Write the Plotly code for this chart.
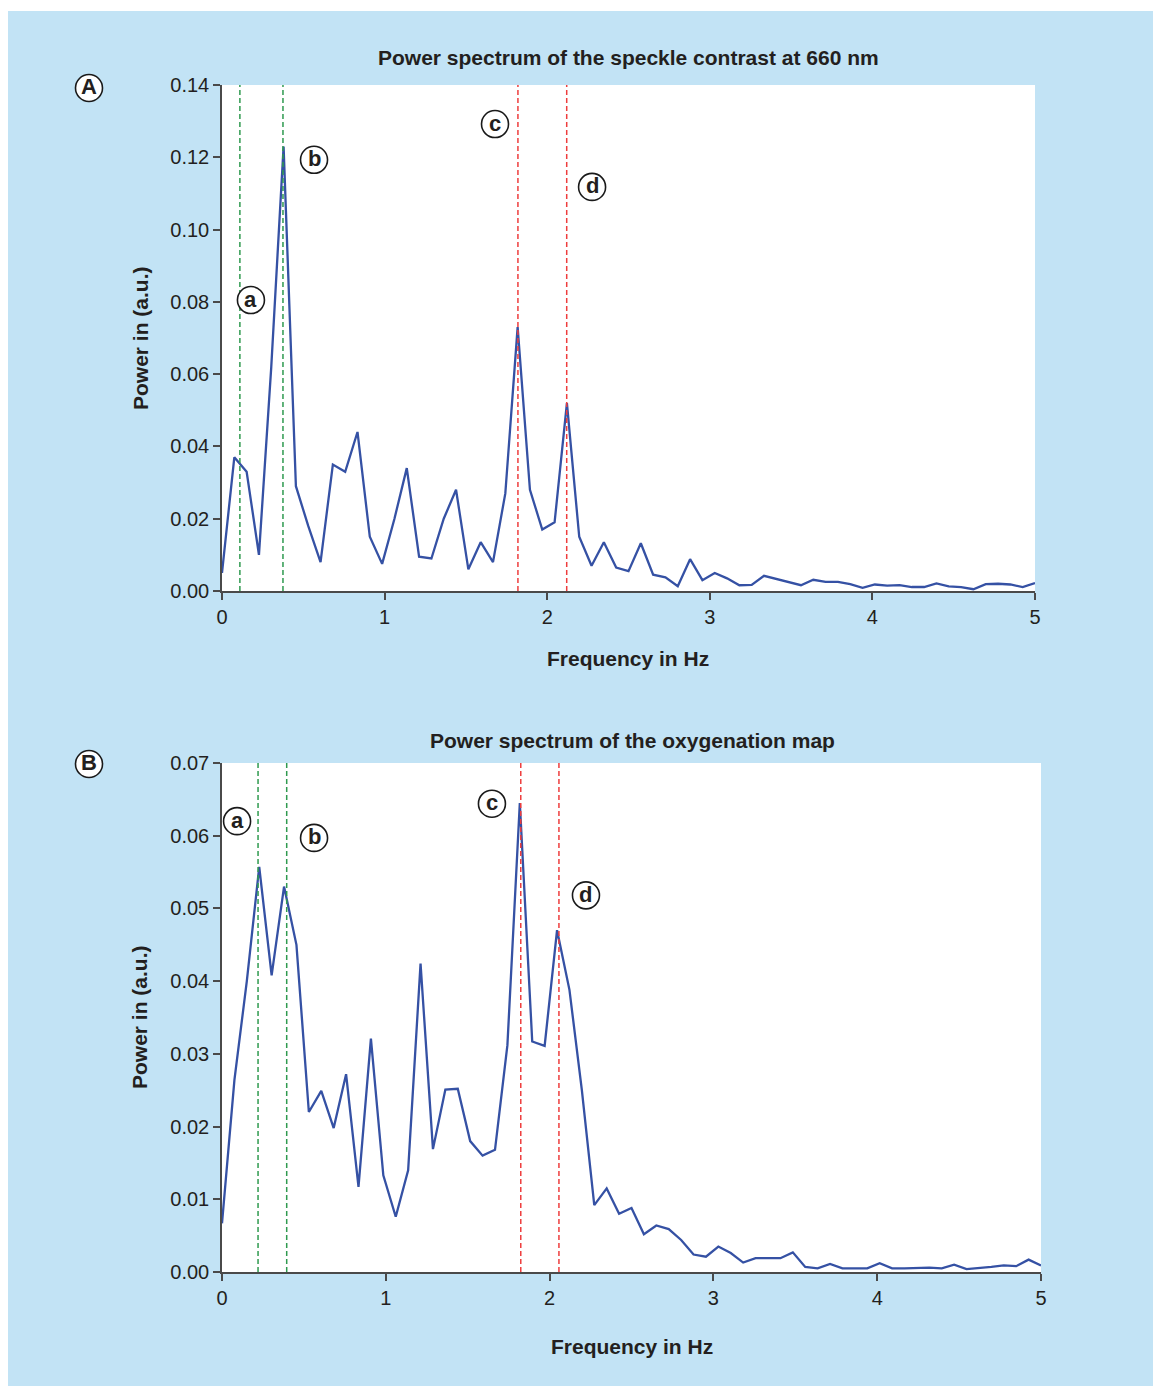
import plotly.graph_objects as go

# ---------------- data ----------------
FREQ_STEP = 5 / 66  # Hz between spectral bins

power_speckle = [0.005, 0.037, 0.033, 0.010, 0.062, 0.123, 0.029, 0.018, 0.008, 0.035,
                 0.033, 0.044, 0.015, 0.0075, 0.020, 0.034, 0.0095, 0.009, 0.020, 0.028,
                 0.006, 0.0135, 0.008, 0.027, 0.073, 0.028, 0.017, 0.019, 0.052, 0.015,
                 0.007, 0.0135, 0.0065, 0.0055, 0.0132, 0.0045, 0.0038, 0.0013, 0.0088, 0.003,
                 0.005, 0.0035, 0.0016, 0.0017, 0.0042, 0.0034, 0.0024, 0.0016, 0.0031, 0.0025,
                 0.0025, 0.0019, 0.0009, 0.0018, 0.0015, 0.0016, 0.0011, 0.0011, 0.0021, 0.0013,
                 0.0011, 0.0005, 0.0019, 0.002, 0.0018, 0.0011, 0.0022]

power_oxy = [0.0067, 0.0264, 0.040, 0.0557, 0.0408, 0.053, 0.045, 0.022, 0.0249, 0.0198,
             0.0272, 0.0117, 0.0321, 0.0133, 0.0076, 0.014, 0.0424, 0.0169, 0.0251, 0.0252,
             0.018, 0.016, 0.0168, 0.0312, 0.0645, 0.0317, 0.0311, 0.047, 0.0388, 0.025,
             0.0092, 0.0115, 0.008, 0.0088, 0.0052, 0.0064, 0.0059, 0.0044, 0.0024, 0.0021,
             0.0035, 0.0026, 0.0013, 0.0019, 0.0019, 0.0019, 0.0027, 0.0007, 0.0005, 0.0011,
             0.0005, 0.0005, 0.0005, 0.0012, 0.0005, 0.0005, 0.0006, 0.0006, 0.0005, 0.001,
             0.0004, 0.0005, 0.0007, 0.0009, 0.0008, 0.0017, 0.0009]

freq_speckle = [i * FREQ_STEP for i in range(len(power_speckle))]
freq_oxy = [i * FREQ_STEP for i in range(len(power_oxy))]

green_lines_A = [0.11, 0.375]
red_lines_A = [1.82, 2.12]
green_lines_B = [0.22, 0.395]
red_lines_B = [1.824, 2.057]

x_ticks = [0, 1, 2, 3, 4, 5]
y_ticks_A = [0.00, 0.02, 0.04, 0.06, 0.08, 0.10, 0.12, 0.14]
y_ticks_B = [0.00, 0.01, 0.02, 0.03, 0.04, 0.05, 0.06, 0.07]

title_A = "Power spectrum of the speckle contrast at 660 nm"
title_B = "Power spectrum of the oxygenation map"
x_title = "Frequency in Hz"
y_title = "Power in (a.u.)"

# ---------------- layout constants ----------------
OFF = 8  # page body margin; figure origin sits at (8, 8) on screen
W, H = 1161 - OFF, 1386 - OFF
BG = "#C2E3F5"
LINE = "#3551A4"
GREEN = "#2F9A4F"
RED = "#EE3D3D"
TXT = "#231F20"
AX = "#4A4A4A"
FONT = "Liberation Sans, Arial, Helvetica, sans-serif"


def px_x(p):
    return (p - OFF) / W


def px_y(p):
    return 1 - (p - OFF) / H


fig = go.Figure()
fig.add_trace(go.Scatter(x=freq_speckle, y=power_speckle, mode="lines",
                         line=dict(color=LINE, width=2.3), xaxis="x", yaxis="y",
                         showlegend=False))
fig.add_trace(go.Scatter(x=freq_oxy, y=power_oxy, mode="lines",
                         line=dict(color=LINE, width=2.3), xaxis="x2", yaxis="y2",
                         showlegend=False))

axis_common = dict(showgrid=False, zeroline=False, showline=True, linecolor=AX,
                   linewidth=1.5, ticks="outside", ticklen=7, tickwidth=1.5,
                   tickcolor=AX, automargin=False,
                   tickfont=dict(family=FONT, size=20, color=TXT))

fig.update_layout(
    width=W, height=H,
    margin=dict(l=0, r=0, t=0, b=0, pad=0, autoexpand=False),
    paper_bgcolor=BG, plot_bgcolor="white",
    xaxis=dict(domain=[px_x(222), px_x(1035)], range=[0, 5], tickvals=x_ticks,
               anchor="y", **axis_common),
    yaxis=dict(domain=[px_y(591), px_y(85)], range=[0, 0.14], tickvals=y_ticks_A,
               tickformat=".2f", anchor="x", **axis_common),
    xaxis2=dict(domain=[px_x(222), px_x(1041)], range=[0, 5], tickvals=x_ticks,
                anchor="y2", **axis_common),
    yaxis2=dict(domain=[px_y(1272), px_y(763)], range=[0, 0.07], tickvals=y_ticks_B,
                tickformat=".2f", anchor="x2", **axis_common),
)

shapes = [
    # thin white strip along the top edge
    dict(type="rect", xref="paper", yref="paper", x0=0, x1=1, y0=px_y(11), y1=1,
         fillcolor="white", line=dict(width=0), layer="below"),
]


def vline(x, color, xr, yr, top):
    return dict(type="line", xref=xr, yref=yr, x0=x, x1=x, y0=0, y1=top,
                line=dict(color=color, width=1.5, dash="5px,3px"), layer="above")


for v in green_lines_A:
    shapes.append(vline(v, GREEN, "x", "y", 0.14))
for v in red_lines_A:
    shapes.append(vline(v, RED, "x", "y", 0.14))
for v in green_lines_B:
    shapes.append(vline(v, GREEN, "x2", "y2", 0.07))
for v in red_lines_B:
    shapes.append(vline(v, RED, "x2", "y2", 0.07))

annotations = []
R = 13.5


def circled(label, x, y, xr, yr, size=22):
    shapes.append(dict(type="circle", xref=xr, yref=yr, xsizemode="pixel",
                       ysizemode="pixel", xanchor=x, yanchor=y,
                       x0=-R, x1=R, y0=-R, y1=R,
                       line=dict(color="#1a1a1a", width=1.6), fillcolor="white",
                       layer="above"))
    annotations.append(dict(text=f"<b>{label}</b>", x=x, y=y, xref=xr, yref=yr,
                            showarrow=False, xanchor="center", yanchor="middle",
                            yshift=1,
                            font=dict(family=FONT, size=size, color=TXT)))


# panel letters
circled("A", px_x(89), px_y(88), "paper", "paper")
circled("B", px_x(89), px_y(764), "paper", "paper")

# peak labels, panel A
circled("a", 0.178, 0.0805, "x", "y")
circled("b", 0.566, 0.1193, "x", "y")
circled("c", 1.679, 0.1292, "x", "y")
circled("d", 2.276, 0.1118, "x", "y")
# peak labels, panel B
circled("a", 0.092, 0.0620, "x2", "y2")
circled("b", 0.562, 0.0597, "x2", "y2")
circled("c", 1.648, 0.0644, "x2", "y2")
circled("d", 2.222, 0.0518, "x2", "y2")


def text(t, xp, yp, angle=0, size=21):
    annotations.append(dict(text=f"<b>{t}</b>", x=px_x(xp), y=px_y(yp), xref="paper",
                            yref="paper", showarrow=False, xanchor="center",
                            yanchor="middle", textangle=angle,
                            font=dict(family=FONT, size=size, color=TXT)))


text(title_A, 628, 57)
text(x_title, 628, 658)
text(y_title, 141, 338, angle=-90)
text(title_B, 632, 740)
text(x_title, 632, 1346)
text(y_title, 139, 1017, angle=-90)

fig.update_layout(shapes=shapes, annotations=annotations)
fig.write_html("out.html")
